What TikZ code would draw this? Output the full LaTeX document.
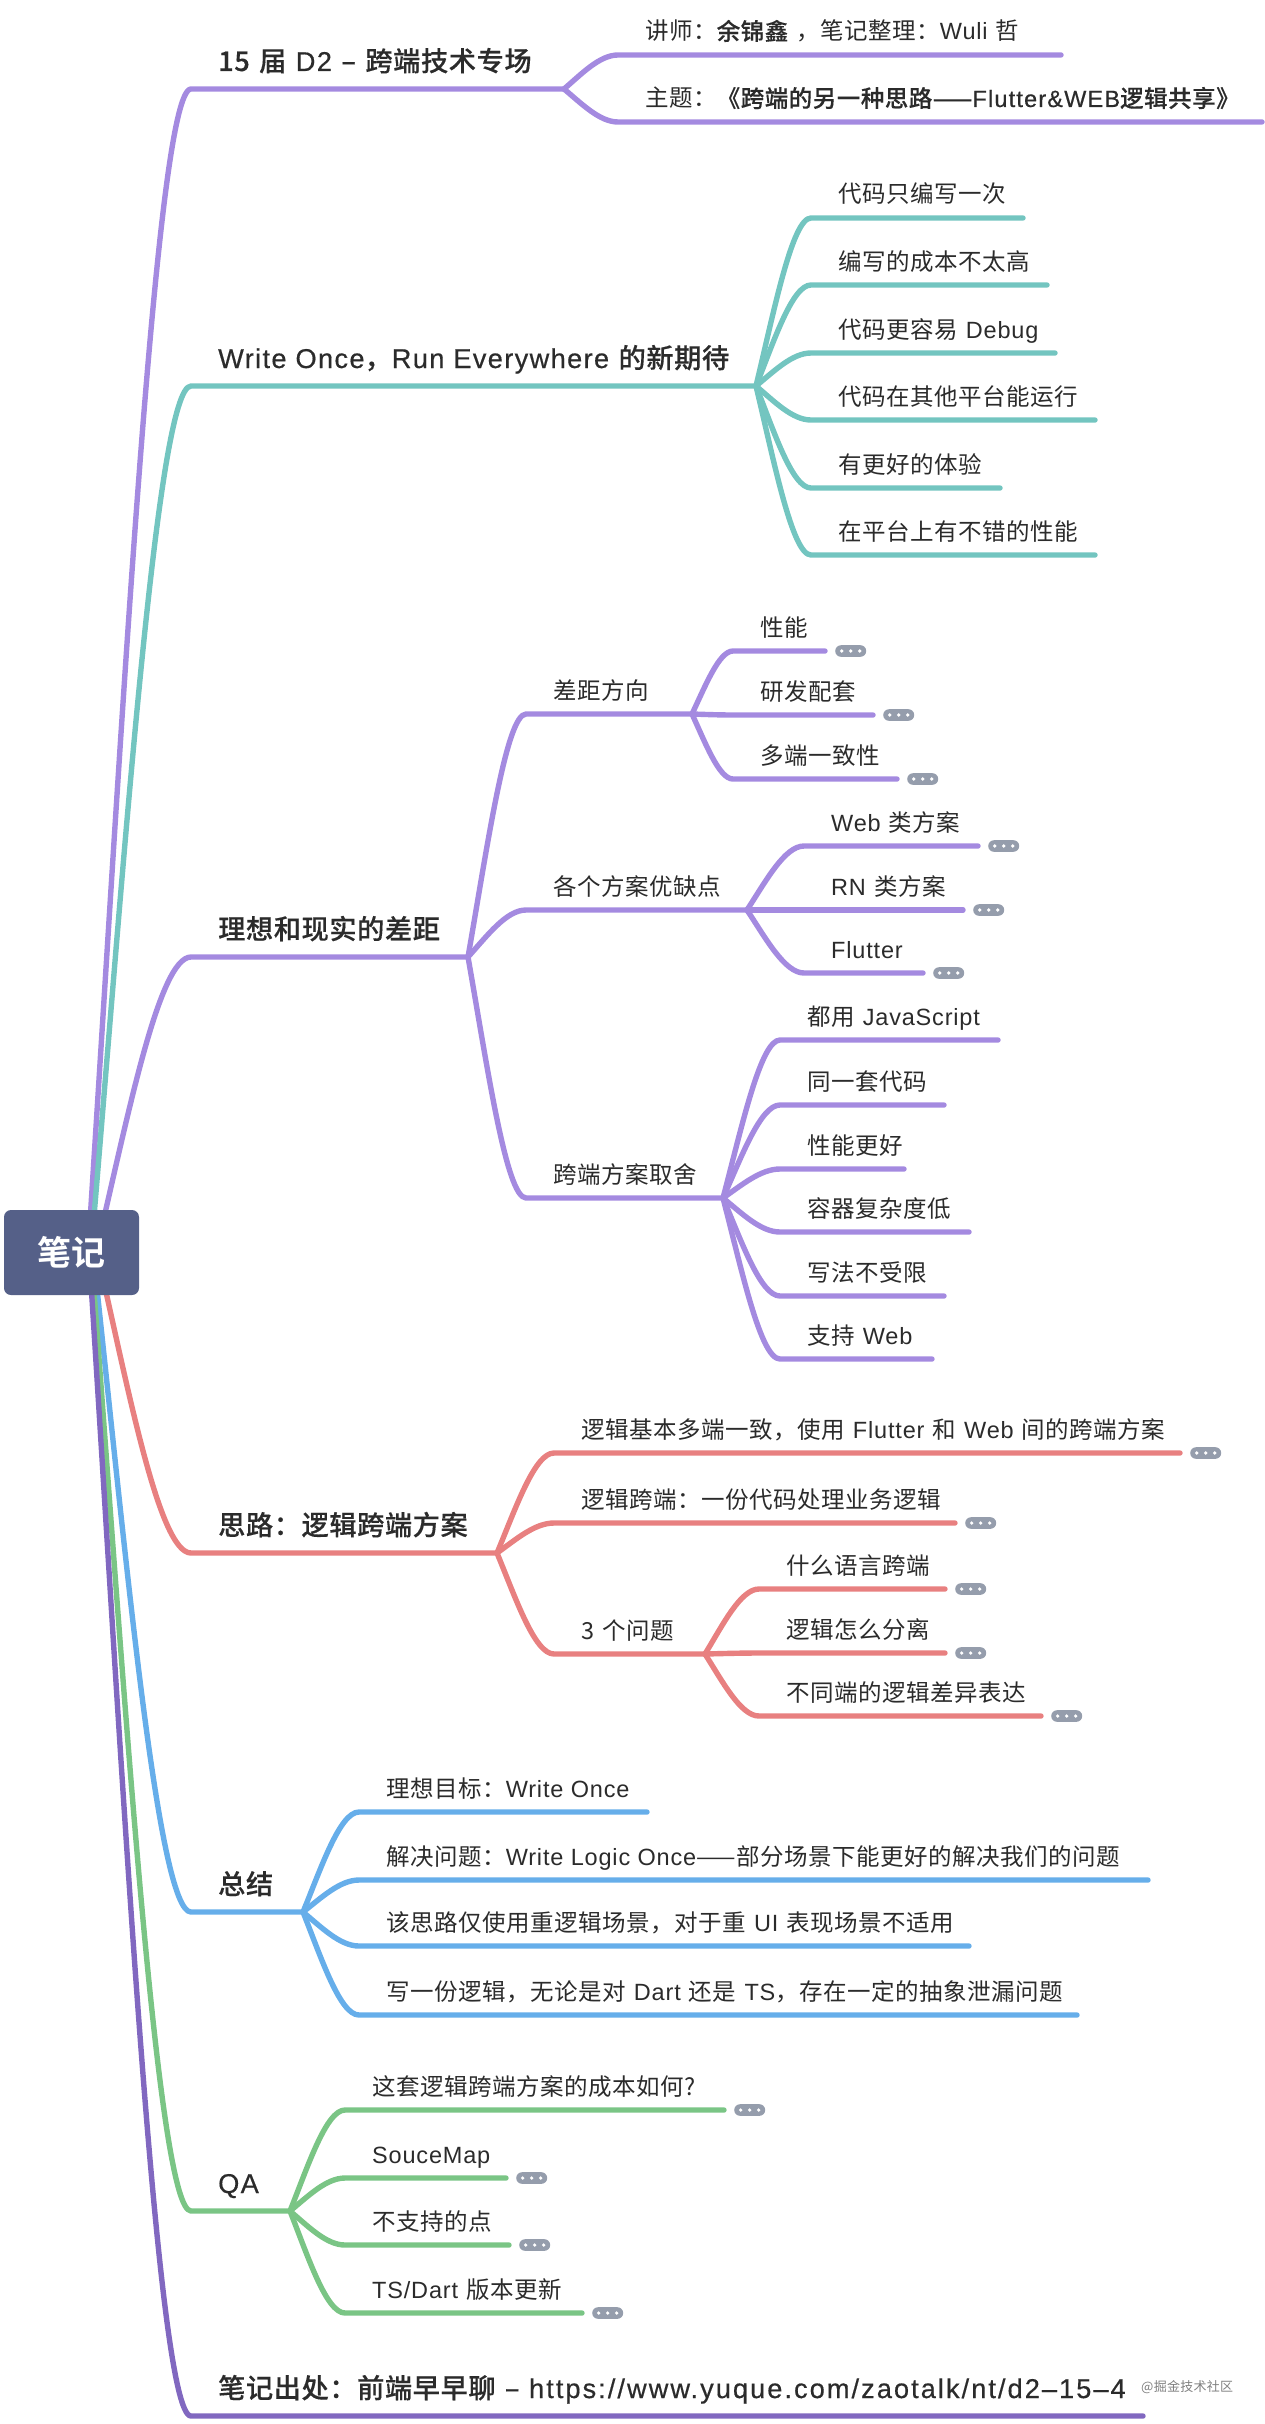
\documentclass[tikz,border=0pt]{standalone}
\usepackage{fontspec}
\setmainfont{Noto Sans CJK SC}[LetterSpace=2.2,WordSpace=1.4,BoldFont=Noto Sans CJK SC Medium,BoldFeatures={FakeBold=0.3}]
\newfontfamily\latf{Liberation Sans}[LetterSpace=3.5,BoldFont=Liberation Sans,BoldFeatures={LetterSpace=5,FakeBold=0.5}]
\newfontfamily\urlf{Liberation Sans}[LetterSpace=7.5,BoldFont=Liberation Sans,BoldFeatures={LetterSpace=7.5,FakeBold=0.5}]
\newfontfamily\rootf{Noto Sans CJK SC Bold}
\newcommand{\en}[1]{{\latf #1}}
\usetikzlibrary{calc,positioning}
\definecolor{rootblue}{HTML}{556088}
\definecolor{lilac}{HTML}{A48AE0}
\definecolor{aqua}{HTML}{73C5C0}
\definecolor{coral}{HTML}{E88080}
\definecolor{sky}{HTML}{66AEEA}
\definecolor{leafgreen}{HTML}{7AC585}
\definecolor{plum}{HTML}{8168C0}
\definecolor{pillgrey}{HTML}{959DAC}
\definecolor{inkgrey}{HTML}{2B2B2B}
\tikzset{
  limb/.style={line width=5.4pt, line cap=round, line join=round},
  sprout/.style={to path={let \p1=(\tikztostart),\p2=(\tikztotarget) in
    .. controls ({\x1+0.33*(\x2-\x1)},{\y1+0.45*(\y2-\y1)}) and ({\x1+0.66*(\x2-\x1)},\y2) .. (\tikztotarget)}},
  topic/.style={anchor=base west, inner sep=0pt, xshift=27pt, yshift=18pt, text=inkgrey,
    font=\fontsize{27.2}{32}\selectfont\bfseries},
  leaf/.style={anchor=base west, inner sep=0pt, xshift=27pt, yshift=15pt, text=inkgrey,
    font=\fontsize{23.5}{28}\selectfont},
  pill/.style={rectangle, inner sep=0pt, minimum width=31pt, minimum height=11.6pt, rounded corners=5.8pt,
    fill=pillgrey, path picture={
      \foreach \dx in {-9,0,9} \fill[white] ([xshift=\dx pt]path picture bounding box.center) circle (1.8pt);}},
  rootbox/.style={rectangle, inner sep=0pt, minimum width=135pt, minimum height=85pt, rounded corners=7pt,
    fill=rootblue, text=white, font=\fontsize{34}{40}\selectfont\rootf},
}
\begin{document}
\begin{tikzpicture}[x=1pt, y=-1pt]
  \useasboundingbox (0,0) rectangle (1264,2424);
  % anchors on the root
  \coordinate (o1) at (88,1252);
  \coordinate (o2) at (91,1252);
  \coordinate (o3) at (96,1252);
  \coordinate (o4) at (97,1252);
  \coordinate (o5) at (93,1252);
  \coordinate (o6) at (91,1252);
  \coordinate (o7) at (89,1252);

  % 15 d2
  \coordinate (d2s) at (191,89);
  \coordinate (d2f) at (564,89);
  \node[topic] (d2) at (d2s) {15 届 \en{D2} – 跨端技术专场};
  \draw[limb,lilac] (o1) to[sprout] (d2s) -- (d2f);
  \foreach \nm/\yy/\xs/\xe/\txt in {d2a/55/618/1061/{讲师：{\bfseries 余锦鑫} ，笔记整理：\en{Wuli} 哲},
      d2b/122/618/1262/{主题：{\bfseries《跨端的另一种思路——\en{Flutter\&WEB}逻辑共享》}}} {
    \coordinate (\nm s) at (\xs,\yy);
    \coordinate (\nm e) at (\xe,\yy);
    \node[leaf] (\nm) at (\nm s) {\txt};
    \draw[limb,lilac] (d2f) to[sprout] (\nm s) -- (\nm e);
  }

  % write once
  \coordinate (wos) at (191,386);
  \coordinate (wof) at (756,386);
  \node[topic] (wo) at (wos) {\en{Write Once}，\en{Run Everywhere} 的新期待};
  \draw[limb,aqua] (o2) to[sprout] (wos) -- (wof);
  \foreach \nm/\yy/\xe/\txt in {wo1/218/1023/代码只编写一次, wo2/285/1047/编写的成本不太高,
      wo3/353/1055/{代码更容易 \en{Debug}}, wo4/420/1095/代码在其他平台能运行,
      wo5/488/1000/有更好的体验, wo6/555/1095/在平台上有不错的性能} {
    \coordinate (\nm s) at (811,\yy);
    \coordinate (\nm e) at (\xe,\yy);
    \node[leaf] (\nm) at (\nm s) {\txt};
    \draw[limb,aqua] (wof) to[sprout] (\nm s) -- (\nm e);
  }

  % gap
  \coordinate (gps) at (191,957);
  \coordinate (gpf) at (468,957);
  \node[topic] (gp) at (gps) {理想和现实的差距};
  \draw[limb,lilac] (o3) to[sprout] (gps) -- (gpf);
  \foreach \nm/\yy/\xf/\txt in {ga/714/692/差距方向, gb/910/747/各个方案优缺点, gc/1198/723/跨端方案取舍} {
    \coordinate (\nm s) at (526,\yy);
    \coordinate (\nm f) at (\xf,\yy);
    \node[leaf] (\nm) at (\nm s) {\txt};
    \draw[limb,lilac] (gpf) to[sprout] (\nm s) -- (\nm f);
  }
  \foreach \nm/\yy/\xe/\txt in {ga1/651/825/性能, ga2/715/873/研发配套, ga3/779/897/多端一致性} {
    \coordinate (\nm s) at (733,\yy);
    \coordinate (\nm e) at (\xe,\yy);
    \node[leaf] (\nm) at (\nm s) {\txt};
    \node[pill, right=10pt of \nm e] (\nm p) {};
    \draw[limb,lilac] (gaf) to[sprout] (\nm s) -- (\nm e);
  }
  \foreach \nm/\yy/\xe/\txt in {gb1/846/978/{\en{Web} 类方案}, gb2/910/963/{\en{RN} 类方案}, gb3/973/923/\en{Flutter}} {
    \coordinate (\nm s) at (804,\yy);
    \coordinate (\nm e) at (\xe,\yy);
    \node[leaf] (\nm) at (\nm s) {\txt};
    \node[pill, right=10pt of \nm e] (\nm p) {};
    \draw[limb,lilac] (gbf) to[sprout] (\nm s) -- (\nm e);
  }
  \foreach \nm/\yy/\xe/\txt in {gc1/1040/998/{都用 \en{JavaScript}}, gc2/1105/944/同一套代码, gc3/1169/904/性能更好,
      gc4/1232/969/容器复杂度低, gc5/1296/944/写法不受限, gc6/1359/932/{支持 \en{Web}}} {
    \coordinate (\nm s) at (780,\yy);
    \coordinate (\nm e) at (\xe,\yy);
    \node[leaf] (\nm) at (\nm s) {\txt};
    \draw[limb,lilac] (gcf) to[sprout] (\nm s) -- (\nm e);
  }

  % idea
  \coordinate (ids) at (191,1553);
  \coordinate (idf) at (497,1553);
  \node[topic] (id) at (ids) {思路：逻辑跨端方案};
  \draw[limb,coral] (o4) to[sprout] (ids) -- (idf);
  \foreach \nm/\yy/\xe/\txt in {id1/1453/1180/{逻辑基本多端一致，使用 \en{Flutter} 和 \en{Web} 间的跨端方案},
      id2/1523/955/逻辑跨端：一份代码处理业务逻辑} {
    \coordinate (\nm s) at (554,\yy);
    \coordinate (\nm e) at (\xe,\yy);
    \node[leaf] (\nm) at (\nm s) {\txt};
    \node[pill, right=10pt of \nm e] (\nm p) {};
    \draw[limb,coral] (idf) to[sprout] (\nm s) -- (\nm e);
  }
  \coordinate (id3s) at (554,1654);
  \coordinate (id3f) at (705,1654);
  \node[leaf] (id3) at (id3s) {3 个问题};
  \draw[limb,coral] (idf) to[sprout] (id3s) -- (id3f);
  \foreach \nm/\yy/\xe/\txt in {iq1/1589/945/什么语言跨端, iq2/1653/945/逻辑怎么分离, iq3/1716/1041/不同端的逻辑差异表达} {
    \coordinate (\nm s) at (759,\yy);
    \coordinate (\nm e) at (\xe,\yy);
    \node[leaf] (\nm) at (\nm s) {\txt};
    \node[pill, right=10pt of \nm e] (\nm p) {};
    \draw[limb,coral] (id3f) to[sprout] (\nm s) -- (\nm e);
  }

  % summary
  \coordinate (sms) at (191,1912);
  \coordinate (smf) at (303,1912);
  \node[topic] (sm) at (sms) {总结};
  \draw[limb,sky] (o5) to[sprout] (sms) -- (smf);
  \foreach \nm/\yy/\xe/\txt in {sm1/1812/647/{理想目标：\en{Write Once}},
      sm2/1880/1148/{解决问题：\en{Write Logic Once}——部分场景下能更好的解决我们的问题},
      sm3/1946/969/{该思路仅使用重逻辑场景，对于重 \en{UI} 表现场景不适用},
      sm4/2015/1077/{写一份逻辑，无论是对 \en{Dart} 还是 \en{TS}，存在一定的抽象泄漏问题}} {
    \coordinate (\nm s) at (359,\yy);
    \coordinate (\nm e) at (\xe,\yy);
    \node[leaf] (\nm) at (\nm s) {\txt};
    \draw[limb,sky] (smf) to[sprout] (\nm s) -- (\nm e);
  }

  % qa
  \coordinate (qas) at (191,2211);
  \coordinate (qaf) at (290,2211);
  \node[topic] (qa) at (qas) {\en{QA}};
  \draw[limb,leafgreen] (o6) to[sprout] (qas) -- (qaf);
  \foreach \nm/\yy/\xe/\txt in {qa1/2110/724/{这套逻辑跨端方案的成本如何?}, qa2/2178/506/\en{SouceMap},
      qa3/2245/509/不支持的点, qa4/2313/582/{\en{TS/Dart} 版本更新}} {
    \coordinate (\nm s) at (345,\yy);
    \coordinate (\nm e) at (\xe,\yy);
    \node[leaf] (\nm) at (\nm s) {\txt};
    \node[pill, right=10pt of \nm e] (\nm p) {};
    \draw[limb,leafgreen] (qaf) to[sprout] (\nm s) -- (\nm e);
  }

  % source
  \coordinate (srs) at (191,2416);
  \coordinate (srf) at (1143,2416);
  \node[topic] (sr) at (srs) {笔记出处：前端早早聊 – {\urlf https://www.yuque.com/zaotalk/nt/d2–15–4}};
  \draw[limb,plum] (o7) to[sprout] (srs) -- (srf);
  \node[anchor=west, inner sep=0pt, text=gray, font=\fontsize{13}{15}\selectfont] (mark) at (1141,2387) {@掘金技术社区};

  \node[rootbox] (root) at (71.5,1252.5) {笔记};
\end{tikzpicture}
\end{document}
